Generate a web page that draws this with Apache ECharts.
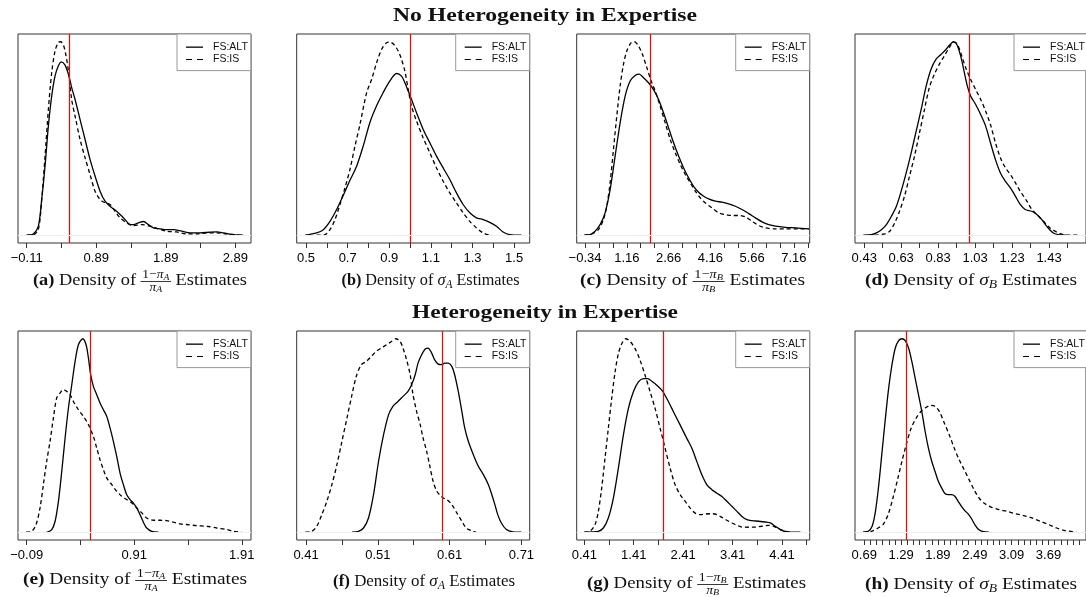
<!DOCTYPE html>
<html>
<head>
<meta charset="utf-8">
<script src="https://cdn.jsdelivr.net/npm/echarts@6/dist/echarts.min.js"></script>
<style>
  html, body { margin: 0; padding: 0; background: #fff; }
  #chart { width: 1086px; height: 597px; }
</style>
</head>
<body>
<div id="chart"></div>
<script>
// density curves, x = estimate, y = density scaled so the taller peak of each panel is 1
const altA = [[-0.11,0],[-0.014,0.007],[0.058,0.047],[0.106,0.185],[0.154,0.358],[0.202,0.565],[0.250,0.720],[0.298,0.824],[0.346,0.876],[0.389,0.896],[0.442,0.879],[0.490,0.832],[0.537,0.763],[0.585,0.703],[0.657,0.599],[0.729,0.496],[0.801,0.392],[0.873,0.306],[0.945,0.228],[1.017,0.176],[1.089,0.150],[1.161,0.130],[1.233,0.107],[1.305,0.081],[1.377,0.055],[1.425,0.055],[1.497,0.064],[1.569,0.071],[1.641,0.055],[1.713,0.038],[1.808,0.033],[1.904,0.029],[2.000,0.029],[2.120,0.021],[2.240,0.012],[2.384,0.012],[2.528,0.016],[2.624,0.017],[2.720,0.012],[2.864,0.003],[2.998,0]]
const isA = [[-0.11,0],[-0.014,0.003],[0.058,0.030],[0.106,0.185],[0.154,0.409],[0.202,0.651],[0.250,0.841],[0.298,0.953],[0.346,0.997],[0.379,1.0],[0.418,0.983],[0.451,0.936],[0.490,0.850],[0.537,0.701],[0.585,0.617],[0.657,0.496],[0.729,0.401],[0.801,0.314],[0.873,0.228],[0.945,0.185],[1.017,0.168],[1.089,0.159],[1.161,0.124],[1.233,0.090],[1.329,0.064],[1.425,0.050],[1.545,0.055],[1.665,0.047],[1.784,0.033],[1.904,0.021],[2.048,0.017],[2.192,0.007],[2.336,0.007],[2.480,0.012],[2.624,0.012],[2.768,0.007],[2.912,0.002],[2.998,0]]
const altB = [[0.495,0],[0.551,0.012],[0.583,0.029],[0.615,0.072],[0.647,0.133],[0.679,0.207],[0.711,0.284],[0.743,0.357],[0.775,0.462],[0.807,0.583],[0.839,0.669],[0.871,0.738],[0.903,0.798],[0.935,0.836],[0.959,0.822],[0.975,0.788],[0.991,0.745],[1.007,0.702],[1.031,0.633],[1.063,0.547],[1.095,0.478],[1.127,0.409],[1.159,0.348],[1.191,0.288],[1.223,0.219],[1.255,0.159],[1.287,0.116],[1.319,0.090],[1.351,0.081],[1.383,0.067],[1.415,0.047],[1.447,0.017],[1.479,0.003],[1.535,0]]
const isB = [[0.551,0],[0.591,0.003],[0.615,0.029],[0.639,0.081],[0.663,0.159],[0.687,0.245],[0.711,0.340],[0.735,0.460],[0.759,0.572],[0.791,0.736],[0.815,0.805],[0.839,0.891],[0.863,0.960],[0.887,0.995],[0.903,0.998],[0.922,0.986],[0.943,0.952],[0.959,0.909],[0.975,0.848],[0.991,0.753],[1.007,0.667],[1.031,0.590],[1.063,0.503],[1.095,0.426],[1.127,0.348],[1.159,0.279],[1.191,0.219],[1.223,0.167],[1.255,0.116],[1.287,0.072],[1.319,0.038],[1.351,0.012],[1.383,0]]
const altC = [[-0.364,0],[-0.160,0.003],[0.020,0.021],[0.200,0.055],[0.380,0.116],[0.560,0.236],[0.740,0.409],[0.920,0.581],[1.100,0.719],[1.280,0.797],[1.460,0.826],[1.604,0.833],[1.760,0.814],[1.940,0.788],[2.120,0.753],[2.300,0.702],[2.480,0.633],[2.660,0.555],[2.840,0.478],[3.020,0.409],[3.200,0.348],[3.380,0.297],[3.560,0.253],[3.740,0.222],[3.920,0.202],[4.100,0.188],[4.340,0.176],[4.580,0.171],[4.820,0.162],[5.060,0.150],[5.300,0.133],[5.540,0.112],[5.780,0.090],[6.020,0.069],[6.260,0.055],[6.500,0.047],[6.860,0.041],[7.220,0.038],[7.700,0.033]]
const isC = [[-0.364,0],[-0.100,0.007],[0.140,0.029],[0.320,0.081],[0.440,0.150],[0.560,0.271],[0.680,0.443],[0.800,0.616],[0.920,0.771],[1.040,0.883],[1.160,0.952],[1.316,0.995],[1.436,1.0],[1.580,0.978],[1.724,0.934],[1.880,0.866],[2.036,0.797],[2.180,0.745],[2.360,0.667],[2.540,0.581],[2.720,0.495],[2.900,0.426],[3.080,0.366],[3.260,0.314],[3.440,0.271],[3.620,0.228],[3.800,0.193],[3.980,0.167],[4.220,0.141],[4.460,0.116],[4.700,0.107],[4.940,0.102],[5.180,0.102],[5.420,0.095],[5.660,0.072],[5.900,0.050],[6.140,0.038],[6.500,0.033],[6.860,0.033],[7.340,0.033],[7.700,0.033]]
const altD = [[0.425,0],[0.469,0.003],[0.496,0.012],[0.523,0.029],[0.550,0.055],[0.577,0.098],[0.604,0.150],[0.630,0.228],[0.657,0.322],[0.684,0.426],[0.711,0.538],[0.738,0.650],[0.765,0.771],[0.791,0.857],[0.818,0.909],[0.845,0.934],[0.872,0.960],[0.895,0.986],[0.913,1.0],[0.931,0.986],[0.952,0.926],[0.970,0.848],[0.988,0.771],[1.006,0.719],[1.033,0.676],[1.060,0.624],[1.087,0.564],[1.113,0.478],[1.140,0.391],[1.167,0.322],[1.194,0.279],[1.221,0.245],[1.248,0.202],[1.274,0.159],[1.301,0.133],[1.337,0.124],[1.364,0.107],[1.391,0.081],[1.417,0.047],[1.453,0.012],[1.489,0.002],[1.525,0]]
const isD = [[0.487,0],[0.541,0.007],[0.568,0.021],[0.595,0.064],[0.621,0.124],[0.648,0.202],[0.675,0.305],[0.702,0.409],[0.729,0.529],[0.756,0.650],[0.782,0.762],[0.809,0.831],[0.836,0.883],[0.863,0.926],[0.890,0.969],[0.913,0.998],[0.931,0.991],[0.952,0.943],[0.979,0.866],[1.006,0.805],[1.033,0.753],[1.060,0.702],[1.087,0.641],[1.113,0.572],[1.140,0.478],[1.167,0.400],[1.194,0.348],[1.221,0.314],[1.248,0.271],[1.274,0.228],[1.310,0.176],[1.337,0.133],[1.364,0.107],[1.400,0.072],[1.435,0.038],[1.471,0.017],[1.507,0.003],[1.543,0],[1.587,0]]
const altE = [[0.096,0],[0.143,0.014],[0.174,0.057],[0.205,0.160],[0.236,0.315],[0.267,0.487],[0.298,0.642],[0.329,0.762],[0.360,0.883],[0.391,0.969],[0.431,1.0],[0.462,0.969],[0.484,0.900],[0.505,0.814],[0.530,0.754],[0.561,0.711],[0.592,0.668],[0.623,0.633],[0.654,0.599],[0.685,0.539],[0.716,0.470],[0.747,0.392],[0.778,0.306],[0.809,0.246],[0.840,0.194],[0.871,0.169],[0.902,0.151],[0.933,0.126],[0.964,0.091],[0.995,0.052],[1.026,0.022],[1.073,0.005],[1.135,0]]
const isE = [[-0.096,0],[-0.043,0.005],[-0.003,0.040],[0.034,0.126],[0.065,0.246],[0.096,0.367],[0.127,0.470],[0.158,0.590],[0.189,0.694],[0.220,0.719],[0.251,0.737],[0.282,0.728],[0.313,0.711],[0.344,0.676],[0.391,0.633],[0.437,0.599],[0.484,0.556],[0.530,0.496],[0.561,0.435],[0.592,0.375],[0.623,0.324],[0.654,0.281],[0.701,0.246],[0.747,0.212],[0.794,0.186],[0.840,0.169],[0.887,0.151],[0.933,0.126],[0.980,0.100],[1.026,0.074],[1.088,0.062],[1.150,0.062],[1.212,0.060],[1.274,0.052],[1.336,0.043],[1.398,0.040],[1.491,0.034],[1.584,0.031],[1.677,0.022],[1.770,0.014],[1.832,0.005],[1.910,0]]
const altF = [[0.474,0],[0.483,0.005],[0.490,0.022],[0.497,0.074],[0.504,0.194],[0.511,0.367],[0.518,0.504],[0.525,0.608],[0.531,0.651],[0.538,0.676],[0.545,0.702],[0.552,0.728],[0.557,0.762],[0.562,0.814],[0.566,0.874],[0.571,0.917],[0.576,0.947],[0.580,0.952],[0.585,0.926],[0.589,0.892],[0.594,0.869],[0.599,0.866],[0.603,0.874],[0.608,0.874],[0.613,0.857],[0.617,0.814],[0.622,0.728],[0.627,0.625],[0.631,0.539],[0.636,0.470],[0.643,0.401],[0.650,0.341],[0.657,0.298],[0.664,0.246],[0.668,0.203],[0.673,0.143],[0.677,0.091],[0.682,0.048],[0.689,0.014],[0.698,0.002],[0.710,0]]
const isF = [[0.409,0],[0.418,0.005],[0.425,0.031],[0.432,0.091],[0.439,0.160],[0.446,0.246],[0.453,0.349],[0.460,0.470],[0.467,0.590],[0.474,0.711],[0.480,0.806],[0.487,0.866],[0.494,0.883],[0.501,0.909],[0.508,0.935],[0.515,0.952],[0.522,0.969],[0.529,0.986],[0.535,1.0],[0.541,0.986],[0.545,0.952],[0.550,0.892],[0.555,0.814],[0.559,0.711],[0.564,0.625],[0.569,0.556],[0.573,0.487],[0.578,0.418],[0.582,0.349],[0.587,0.263],[0.592,0.212],[0.596,0.194],[0.601,0.177],[0.606,0.169],[0.613,0.143],[0.620,0.100],[0.627,0.057],[0.633,0.022],[0.640,0.009],[0.647,0]]
const altG = [[0.410,0],[0.559,0.002],[0.694,0.005],[0.795,0.022],[0.896,0.074],[0.998,0.177],[1.099,0.331],[1.201,0.503],[1.302,0.640],[1.403,0.726],[1.505,0.777],[1.606,0.794],[1.694,0.794],[1.775,0.780],[1.876,0.760],[1.978,0.734],[2.079,0.691],[2.180,0.640],[2.282,0.588],[2.383,0.537],[2.484,0.485],[2.586,0.434],[2.687,0.365],[2.788,0.297],[2.890,0.245],[2.991,0.220],[3.092,0.202],[3.194,0.185],[3.295,0.160],[3.396,0.134],[3.498,0.108],[3.599,0.082],[3.701,0.065],[3.802,0.060],[3.937,0.057],[4.072,0.053],[4.174,0.048],[4.275,0.031],[4.376,0.014],[4.511,0.002],[4.782,0]]
const isG = [[0.410,0],[0.525,0.005],[0.626,0.039],[0.694,0.108],[0.761,0.228],[0.829,0.383],[0.896,0.537],[0.964,0.691],[1.032,0.828],[1.099,0.923],[1.167,0.974],[1.248,1.0],[1.336,0.986],[1.437,0.949],[1.538,0.889],[1.640,0.811],[1.741,0.726],[1.842,0.640],[1.944,0.537],[2.045,0.434],[2.146,0.331],[2.248,0.245],[2.349,0.194],[2.451,0.160],[2.552,0.125],[2.653,0.099],[2.755,0.091],[2.856,0.094],[2.991,0.096],[3.092,0.091],[3.194,0.077],[3.295,0.062],[3.396,0.048],[3.498,0.036],[3.599,0.027],[3.734,0.026],[3.869,0.027],[4.005,0.031],[4.140,0.036],[4.275,0.027],[4.376,0.014],[4.478,0.005],[4.613,0]]
const altH = [[0.674,0],[0.755,0.005],[0.819,0.031],[0.873,0.108],[0.927,0.246],[0.981,0.418],[1.035,0.590],[1.088,0.745],[1.142,0.866],[1.196,0.952],[1.250,0.990],[1.304,1.0],[1.358,0.990],[1.412,0.952],[1.465,0.883],[1.519,0.797],[1.573,0.711],[1.627,0.625],[1.681,0.522],[1.735,0.435],[1.789,0.367],[1.842,0.315],[1.896,0.263],[1.950,0.229],[2.004,0.200],[2.058,0.194],[2.112,0.194],[2.165,0.186],[2.219,0.160],[2.273,0.134],[2.327,0.112],[2.381,0.095],[2.435,0.071],[2.489,0.040],[2.542,0.017],[2.612,0.005],[2.720,0]]
const isH = [[0.674,0],[0.808,0.005],[0.916,0.022],[0.997,0.040],[1.078,0.091],[1.158,0.177],[1.239,0.281],[1.304,0.367],[1.374,0.453],[1.455,0.539],[1.535,0.590],[1.616,0.625],[1.697,0.645],[1.778,0.656],[1.842,0.651],[1.912,0.625],[1.993,0.565],[2.074,0.504],[2.155,0.435],[2.235,0.375],[2.316,0.324],[2.397,0.272],[2.478,0.220],[2.559,0.177],[2.639,0.151],[2.747,0.131],[2.882,0.117],[3.016,0.108],[3.151,0.096],[3.286,0.086],[3.420,0.074],[3.555,0.057],[3.689,0.040],[3.824,0.022],[3.959,0.009],[4.147,0]]

const altSeries = [altA, altB, altC, altD, altE, altF, altG, altH]
const isSeries = [isA, isB, isC, isD, isE, isF, isG, isH]
const trueValues = [0.5, 1.0, 2.0, 1.0, 0.5, 0.6, 2.0, 1.38]

// x axes
const labelValues = [
  [-0.11, 0.89, 1.89, 2.89],
  [0.5, 0.7, 0.9, 1.1, 1.3, 1.5],
  [-0.34, 1.16, 2.66, 4.16, 5.66, 7.16],
  [0.43, 0.63, 0.83, 1.03, 1.23, 1.43],
  [-0.09, 0.91, 1.91],
  [0.41, 0.51, 0.61, 0.71],
  [0.41, 1.41, 2.41, 3.41, 4.41],
  [0.69, 1.29, 1.89, 2.49, 3.09, 3.69],
]
const labelDigits = [2, 1, 2, 2, 2, 2, 2, 2]
const tickStep = [0.5, 0.1, 0.5, 0.1, 0.5, 0.05, 0.5, 0.1]
const tickLast = [2.89, 1.5, 7.66, 1.53, 1.91, 0.71, 4.91, 4.19]
const xMin = [-0.235, 0.455, -0.64, 0.38, -0.171, 0.397, 0.256, 0.54]
const xMax = [3.116, 1.575, 7.73, 1.63, 1.996, 0.7215, 4.97, 4.30]

const letters = ['a', 'b', 'c', 'd', 'e', 'f', 'g', 'h']
const captionKind = ['frac', 'sigma', 'frac', 'sigma', 'frac', 'sigma', 'frac', 'sigma']
const captionSub = ['A', 'A', 'B', 'B', 'A', 'A', 'B', 'B']
const rowTitles = ['No Heterogeneity in Expertise', 'Heterogeneity in Expertise']

const colLeft = [18, 296.7, 576.7, 855]
const rowTop = [34, 331]
const plotW = 233
const plotH = 209
const captionX = [140, 430.5, 692.5, 971, 135, 424, 696.5, 971]
const captionY = [281, 281, 281, 281, 580, 582, 584, 585]
const captionW = [214, 178, 225, 212, 224, 182, 219, 212]
const titleY = [16, 313]
const titleW = [304, 266]

const ctx = document.createElement('canvas').getContext('2d')
function textWidth(font, text) {
  ctx.font = font
  return ctx.measureText(text).width
}

const SERIF = '"Liberation Serif", "DejaVu Serif", serif'
const SANS = '"Liberation Sans", Arial, sans-serif'
function textEl(text, font, x, y) {
  return {
    type: 'text',
    x,
    y,
    style: { text, font, fill: '#111', verticalAlign: 'middle', textVerticalAlign: 'middle' },
  }
}

function caption(i) {
  const letter = letters[i]
  const sub = captionSub[i]
  const fBold = 'bold 17px ' + SERIF
  const fMain = '17px ' + SERIF
  const fIt = 'italic 17px ' + SERIF
  const fSub = 'italic 12px ' + SERIF
  const fFr = '12.5px ' + SERIF
  const fFrIt = 'italic 12.5px ' + SERIF
  const fFrSub = 'italic 9px ' + SERIF
  const space = textWidth(fMain, ' ')
  const parts = []
  let x = 0
  const put = (text, font, dx, dy) => parts.push({ text, font, x: x + dx, y: dy })
  put('(' + letter + ')', fBold, 0, 0)
  x += textWidth(fBold, '(' + letter + ')') + space
  put('Density of', fMain, 0, 0)
  x += textWidth(fMain, 'Density of') + space
  let bar = null
  if (captionKind[i] === 'frac') {
    const numW = textWidth(fFr, '1−') + textWidth(fFrIt, 'π') + textWidth(fFrSub, sub)
    const denW = textWidth(fFrIt, 'π') + textWidth(fFrSub, sub)
    const w = Math.max(numW, denW) + 3
    let nx = (w - numW) / 2
    put('1−', fFr, nx, -6); nx += textWidth(fFr, '1−')
    put('π', fFrIt, nx, -6); nx += textWidth(fFrIt, 'π')
    put(sub, fFrSub, nx, -3.5)
    let dx = (w - denW) / 2
    put('π', fFrIt, dx, 6.5); dx += textWidth(fFrIt, 'π')
    put(sub, fFrSub, dx, 9)
    bar = [x, x + w]
    x += w + space
  } else {
    put('σ', fIt, 0, 0)
    x += textWidth(fIt, 'σ')
    put(sub, fSub, 0, 4)
    x += textWidth(fSub, sub) + space
  }
  put('Estimates', fMain, 0, 0)
  x += textWidth(fMain, 'Estimates')
  const half = x / 2
  const children = parts.map(p => textEl(p.text, p.font, p.x - half, p.y))
  if (bar) {
    children.push({
      type: 'line',
      shape: { x1: bar[0] - half, y1: 0.5, x2: bar[1] - half, y2: 0.5 },
      style: { stroke: '#111', lineWidth: 0.8 },
    })
  }
  return { type: 'group', x: captionX[i], y: captionY[i], scaleX: captionW[i] / x, children }
}

function title(r) {
  const font = 'bold 19px ' + SERIF
  const w = textWidth(font, rowTitles[r])
  return {
    type: 'group',
    x: 545,
    y: titleY[r],
    scaleX: titleW[r] / w,
    children: [textEl(rowTitles[r], font, -w / 2, 0)],
  }
}

function ticksFor(i) {
  const out = []
  for (let v = labelValues[i][0]; v <= tickLast[i] + 1e-9; v += tickStep[i])
    out.push(Math.round(v * 1000) / 1000)
  return out
}

const DASH_ICON = 'path://M0,0h6v1h-6zM11,0h6v1h-6z'

const grid = []
const xAxis = []
const yAxis = []
const legend = []
const series = []
const graphics = [title(0), title(1)]

for (let i = 0; i < 8; i++) {
  const left = colLeft[i % 4]
  const top = rowTop[Math.floor(i / 4)]
  grid.push({ left, top, width: plotW, height: plotH, show: true, borderColor: '#333', borderWidth: 1 })
  xAxis.push({
    gridIndex: i,
    type: 'value',
    min: xMin[i],
    max: xMax[i],
    axisLine: { show: false, onZero: false },
    splitLine: { show: false },
    axisTick: { show: true, length: 5, lineStyle: { color: '#333' }, customValues: ticksFor(i) },
    axisLabel: {
      customValues: labelValues[i],
      formatter: v => Number(v).toFixed(labelDigits[i]).replace('-', '−'),
      margin: 9,
      color: '#000',
      fontFamily: SANS,
      fontSize: 13,
    },
  })
  yAxis.push({ gridIndex: i, type: 'value', min: -0.04, max: 1.04, show: false })
  legend.push({
    data: [{ name: 'FS:ALT', icon: 'rect' }, { name: 'FS:IS', icon: DASH_ICON }],
    orient: 'vertical',
    left: left + plotW - 74,
    top,
    itemWidth: 17,
    itemHeight: 1.3,
    itemGap: 0,
    padding: [7, 3, 5, 9],
    borderColor: '#999',
    borderWidth: 1,
    backgroundColor: '#fff',
    selectedMode: false,
    textStyle: { fontFamily: SANS, fontSize: 10.5, lineHeight: 12.3, color: '#111', padding: [0, 0, 0, 5] },
  })
  series.push({
    type: 'line',
    name: 'FS:ALT',
    xAxisIndex: i,
    yAxisIndex: i,
    data: altSeries[i],
    symbol: 'none',
    smooth: 0.3,
    lineStyle: { color: '#000', width: 1.3 },
    itemStyle: { color: '#000' },
    markLine: {
      silent: true,
      symbol: ['none', 'none'],
      label: { show: false },
      lineStyle: { color: '#ff0000', width: 1.2, type: 'solid' },
      data: [{ xAxis: trueValues[i] }],
    },
  })
  series.push({
    type: 'line',
    name: 'FS:IS',
    xAxisIndex: i,
    yAxisIndex: i,
    data: isSeries[i],
    symbol: 'none',
    smooth: 0.3,
    lineStyle: { color: '#000', width: 1.3, type: [4, 3] },
    itemStyle: { color: '#000' },
    markLine: {
      silent: true,
      symbol: ['none', 'none'],
      label: { show: false },
      lineStyle: { color: '#eeeeee', width: 1, type: 'solid' },
      data: [{ yAxis: 0 }],
    },
  })
  graphics.push(caption(i))
}

const chart = echarts.init(document.getElementById('chart'), null, { renderer: 'canvas' })
chart.setOption({
  animation: false,
  backgroundColor: '#fff',
  grid,
  xAxis,
  yAxis,
  legend,
  series,
  graphic: { elements: graphics },
})
</script>
</body>
</html>
